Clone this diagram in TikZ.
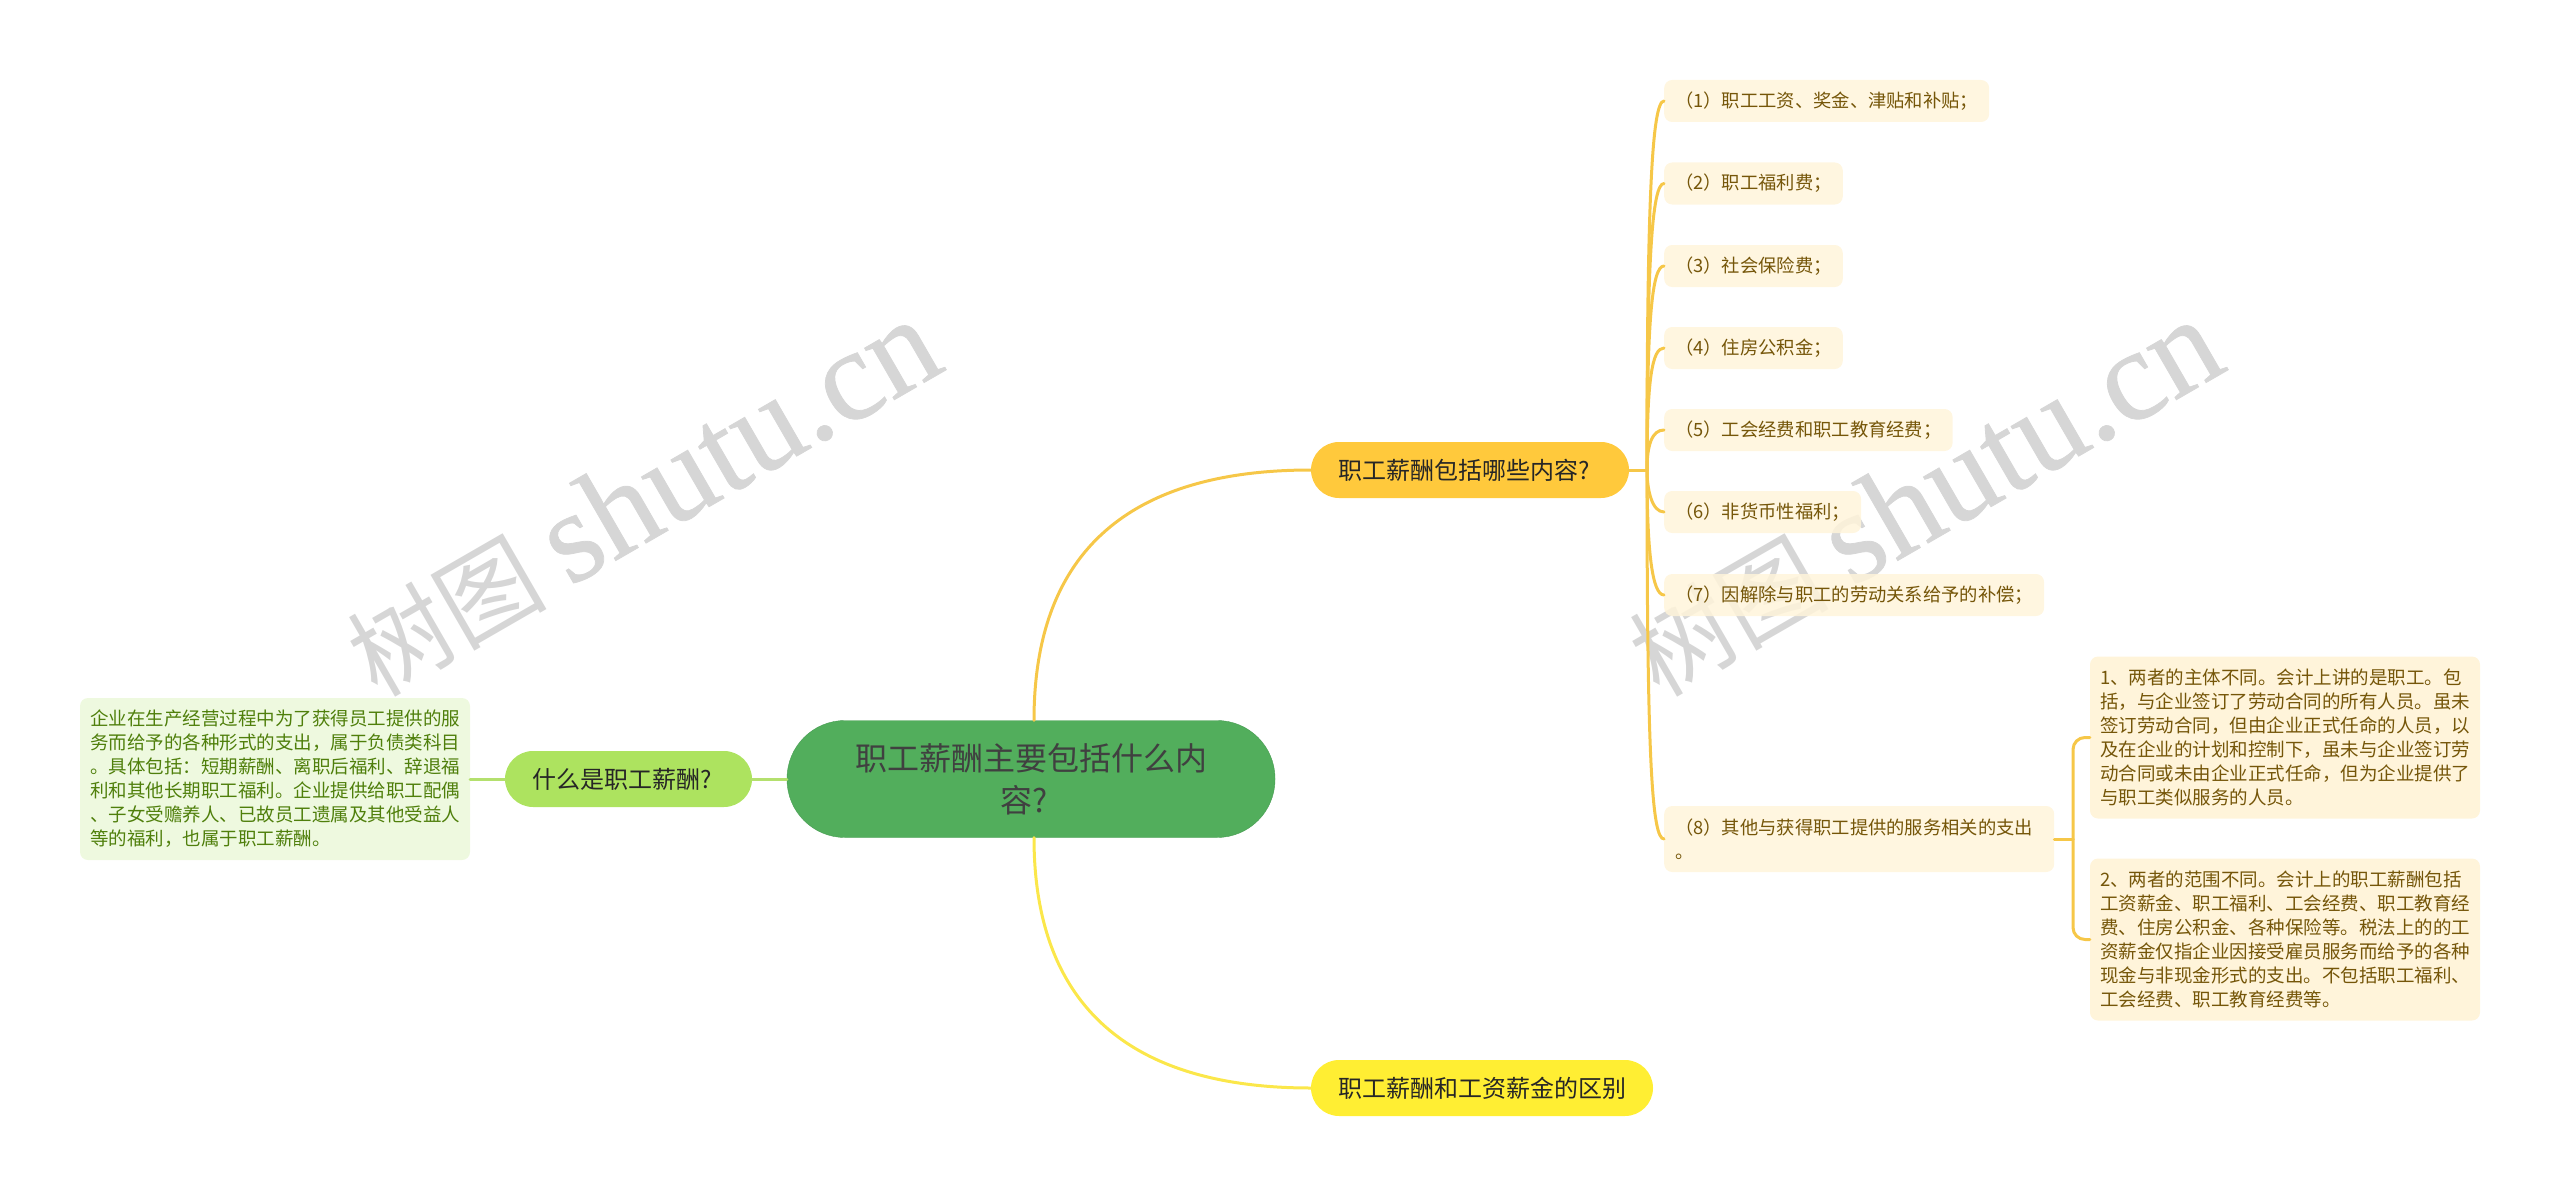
\documentclass[tikz,border=0pt]{standalone}
\usepackage{fontspec}
\setmainfont{Noto Sans CJK SC}
\newfontfamily\markfont[FakeBold=0.6]{Liberation Serif}
\definecolor{rootgreen}{HTML}{52AE5C}
\definecolor{rootline}{HTML}{479C52}
\definecolor{limegreen}{HTML}{ADE35F}
\definecolor{limeline}{HTML}{B4E06E}
\definecolor{limepale}{HTML}{EEF9DF}
\definecolor{limetext}{HTML}{4F7F0B}
\definecolor{amber}{HTML}{FFC93C}
\definecolor{amberline}{HTML}{F6C748}
\definecolor{amberpale}{HTML}{FFF4DA}
\definecolor{ambertext}{HTML}{755609}
\definecolor{lemon}{HTML}{FFEE33}
\definecolor{lemonline}{HTML}{FBE74A}
\definecolor{marktext}{HTML}{D6D6D6}
\tikzset{
  branchnode/.style={rounded corners=28pt,minimum height=56pt,inner sep=0pt,font=\fontsize{24}{30}\selectfont,text=black!85},
  leafnode/.style={fill=amberpale,fill opacity=.85,text opacity=1,rounded corners=8pt,minimum height=42pt,inner xsep=11pt,inner ysep=0pt,anchor=west,
    text=ambertext,align=left,font=\fontsize{18.3}{24}\selectfont},
  notenode/.style={rounded corners=8pt,inner xsep=10pt,inner ysep=0pt,minimum height=162pt,align=left,text width=370pt,
    font=\fontsize{18.5}{24}\selectfont},
  markstyle/.style={rotate=30,text=marktext,inner sep=0pt,font=\fontsize{100}{130}\selectfont},
  edgeline/.style={line width=3pt,line cap=round},
}
\begin{document}
\begin{tikzpicture}[x=1pt,y=-1pt]
        \useasboundingbox (0,0) rectangle (2560,1196);
        % watermarks
        \node[markstyle] (mark1) at (642,498) {树图 {\markfont\fontsize{130}{130}\selectfont shutu.cn}};
        \node[markstyle] (mark2) at (1924,498) {树图 {\markfont\fontsize{130}{130}\selectfont shutu.cn}};
        % centre and branches
        \node[fill=rootgreen,draw=rootline,rounded corners=58pt,minimum width=488pt,minimum height=117pt,align=center,
          inner sep=0pt,font=\fontsize{32}{42}\selectfont,text=black!75] (root) at (1031,779) {职工薪酬主要包括什么内\\容?\kern14pt};
        \node[branchnode,fill=limegreen,minimum width=247pt] (whatis) at (628.5,779) {什么是职工薪酬?\kern12pt};
        \node[branchnode,fill=amber,minimum width=318pt] (items) at (1470,470) {职工薪酬包括哪些内容?\kern12pt};
        \node[branchnode,fill=lemon,minimum width=342pt] (differ) at (1482,1088) {职工薪酬和工资薪金的区别};
        % leaves
        \node[notenode,fill=limepale,text=limetext] (define) at (275,779) {企业在生产经营过程中为了获得员工提供的服\\务而给予的各种形式的支出，属于负债类科目\\。具体包括：短期薪酬、离职后福利、辞退福\\利和其他长期职工福利。企业提供给职工配偶\\、子女受赡养人、已故员工遗属及其他受益人\\等的福利，也属于职工薪酬。};
        \node[leafnode] (item1) at (1664,101) {（1）职工工资、奖金、津贴和补贴；};
        \node[leafnode] (item2) at (1664,183.5) {（2）职工福利费；};
        \node[leafnode] (item3) at (1664,266) {（3）社会保险费；};
        \node[leafnode] (item4) at (1664,348) {（4）住房公积金；};
        \node[leafnode] (item5) at (1664,430) {（5）工会经费和职工教育经费；};
        \node[leafnode] (item6) at (1664,512) {（6）非货币性福利；};
        \node[leafnode] (item7) at (1664,595) {（7）因解除与职工的劳动关系给予的补偿；};
        \node[leafnode,minimum height=66pt,text width=368pt] (item8) at (1664,839) {（8）其他与获得职工提供的服务相关的支出\\。};
        \node[notenode,fill=amberpale,text=ambertext] (note1) at (2285,737.5) {1、两者的主体不同。会计上讲的是职工。包\\括，与企业签订了劳动合同的所有人员。虽未\\签订劳动合同，但由企业正式任命的人员，以\\及在企业的计划和控制下，虽未与企业签订劳\\动合同或未由企业正式任命，但为企业提供了\\与职工类似服务的人员。};
        \node[notenode,fill=amberpale,text=ambertext] (note2) at (2285,939.5) {2、两者的范围不同。会计上的职工薪酬包括\\工资薪金、职工福利、工会经费、职工教育经\\费、住房公积金、各种保险等。税法上的的工\\资薪金仅指企业因接受雇员服务而给予的各种\\现金与非现金形式的支出。不包括职工福利、\\工会经费、职工教育经费等。};
        \coordinate (trunk) at (1647,470);
        \coordinate (fork) at (2073,839);
        % edges
        \draw[edgeline,draw=amberline] ([xshift=3pt]root.north) .. controls (1034,560) and (1120,470) .. (items.west);
        \draw[edgeline,draw=lemonline] ([xshift=3pt]root.south) .. controls (1034,997) and (1120,1088) .. (differ.west);
        \draw[edgeline,draw=limeline] (root.west) -- (whatis.east);
        \draw[edgeline,draw=limeline] (whatis.west) -- (define.east);
        \draw[edgeline,draw=amberline] (items.east) -- (trunk);
        \draw[edgeline,draw=amberline] (trunk) .. controls (1647,200) and (1652,101) .. (item1.west);
        \draw[edgeline,draw=amberline] (trunk) .. controls (1647,260) and (1652,183.5) .. (item2.west);
        \draw[edgeline,draw=amberline] (trunk) .. controls (1647,320) and (1652,266) .. (item3.west);
        \draw[edgeline,draw=amberline] (trunk) .. controls (1647,380) and (1652,348) .. (item4.west);
        \draw[edgeline,draw=amberline] (trunk) .. controls (1647,445) and (1652,430) .. (item5.west);
        \draw[edgeline,draw=amberline] (trunk) .. controls (1647,490) and (1652,512) .. (item6.west);
        \draw[edgeline,draw=amberline] (trunk) .. controls (1647,550) and (1652,595) .. (item7.west);
        \draw[edgeline,draw=amberline] (trunk) .. controls (1647,760) and (1652,839) .. (item8.west);
        \draw[edgeline,draw=amberline] (item8.east) -- (fork);
        \draw[edgeline,draw=amberline,rounded corners=12pt] (fork) |- (note1.west);
        \draw[edgeline,draw=amberline,rounded corners=12pt] (fork) |- (note2.west);
\end{tikzpicture}
\end{document}
